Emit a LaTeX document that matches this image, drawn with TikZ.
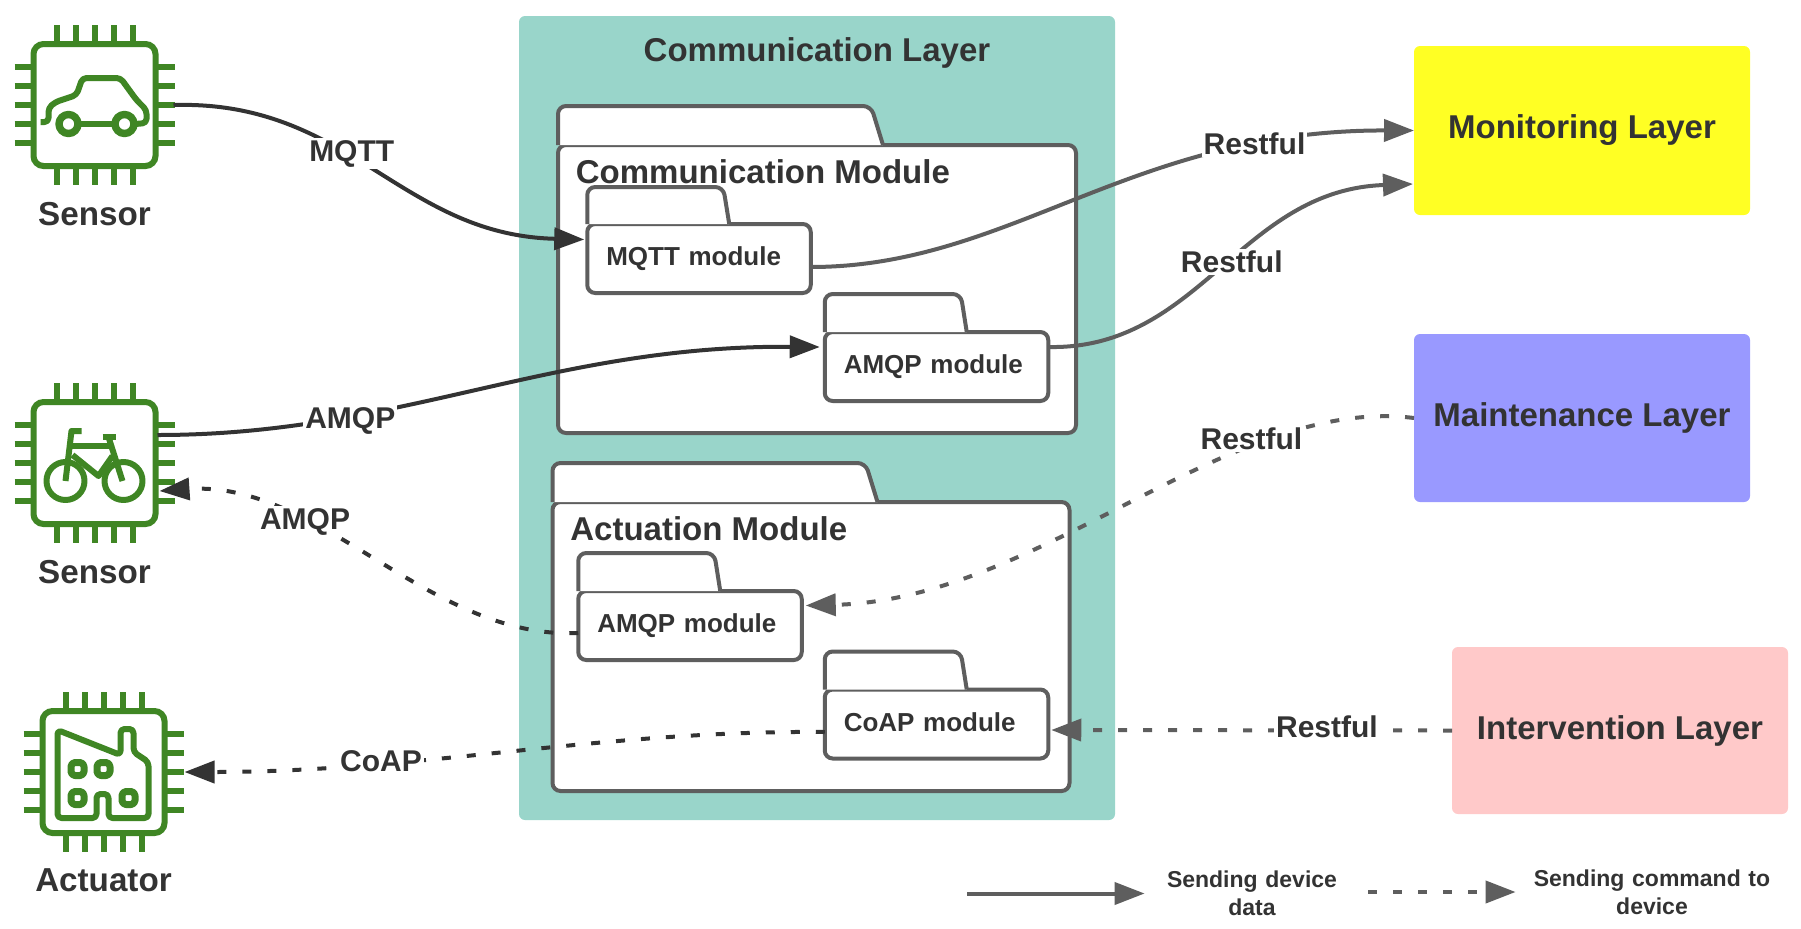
\documentclass[tikz,border=0pt]{standalone}
\usepackage{fontspec}
\setmainfont{Liberation Sans}
\usetikzlibrary{arrows.meta, positioning}
\definecolor{chipgreen}{RGB}{63, 134, 36}
\definecolor{layerteal}{RGB}{153, 213, 202}
\definecolor{layeryellow}{RGB}{255, 255, 36}
\definecolor{layerpurple}{RGB}{153, 153, 255}
\definecolor{layerpink}{RGB}{255, 201, 201}
\definecolor{inkdark}{RGB}{51, 51, 51}
\definecolor{inkgray}{RGB}{94, 94, 94}
\tikzset{
  boldtext/.style={font=\fontsize{#1}{#1}\selectfont\bfseries, text=inkdark},
  layerbox/.style={rounded corners=3pt, inner sep=0pt, outer sep=0pt, boldtext=16.5},
  modulebox/.style={draw=inkgray, fill=white, line width=2pt, rounded corners=4pt, inner sep=0pt, outer sep=0pt},
  subbox/.style={modulebox, boldtext=13, minimum height=34.5pt, text width=92.75pt, inner xsep=9.5pt, align=left},
  tabline/.style={draw=inkgray, fill=white, line width=2pt, rounded corners=4pt},
  chipbox/.style={draw=chipgreen, fill=white, line width=3pt, rounded corners=5pt, minimum size=61pt, inner sep=0pt, outer sep=0pt},
  chipcaption/.style={boldtext=16.6, inner sep=0pt},
  glyphline/.style={draw=chipgreen, line width=3pt, rounded corners=2pt, line join=round},
  edgelabel/.style={fill=white, inner sep=1pt, boldtext=15},
  dataline/.style={draw=#1, line width=2pt, -{Triangle[length=15pt, width=11pt]}},
  commandline/.style={dataline=#1, dash pattern=on 4.5pt off 8pt},
  pinsaround/.pic={
    \foreach \p in {-38,-19,0,19,38} {
      \draw[chipgreen, line width=3pt] (\p,-80) -- (\p,-63);
      \draw[chipgreen, line width=3pt] (\p,63) -- (\p,80);
      \draw[chipgreen, line width=3pt] (-80,\p) -- (-63,\p);
      \draw[chipgreen, line width=3pt] (63,\p) -- (80,\p);
    }
  },
  carglyph/.pic={
    \draw[glyphline] (-54,17) -- (-46,17) -- (-46,3) -- (-39,-3) -- (-18,-10) -- (-12,-27) -- (26,-27) -- (42,-5) -- (52,5) -- (52,18) -- (41,19);
    \draw[glyphline] (-14,19) -- (18,19);
    \draw[glyphline, line width=3.7pt] (-26,19) circle (9.5);
    \draw[glyphline, line width=3.7pt] (30,19) circle (9.5);
  },
  bikeglyph/.pic={
    \draw[glyphline] (-29,18) circle (19);
    \draw[glyphline] (29,18) circle (19);
    \draw[glyphline, rounded corners=0pt] (-13,-32) -- (-23,-32) -- (-29,18);
    \draw[glyphline, rounded corners=0pt] (8,-26) -- (21,-26);
    \draw[glyphline, rounded corners=0pt] (14,-26) -- (28,18);
    \draw[glyphline, rounded corners=0pt] (-25,-17) -- (16,-17);
    \draw[glyphline, rounded corners=0pt] (-22,-8) -- (4,13) -- (18,-7);
  },
  factoryglyph/.pic={
    \draw[glyphline] (-46,-42) -- (17,-17) -- (17,-43) -- (30,-43) -- (30,-20) -- (45,-10) -- (45,46) -- (5,46) -- (5,22) -- (-7,22) -- (-7,46) -- (-46,46) -- cycle;
    \foreach \wx/\wy in {-26/-3, 0/-3, -26/26, 25/26} {
      \draw[glyphline, line width=3.5pt] (\wx-6.5,\wy-6.5) rectangle (\wx+6.5,\wy+6.5);
    }
  }
}
\newcommand{\foldertab}[4]{
  \draw[tabline] (#1.north west) -- ++(0,-#2) -- ++(#3,0) -- ++(#4,#2);
}

\begin{document}
\begin{tikzpicture}[x=0.5pt, y=-0.5pt]
  \useasboundingbox (0,0) rectangle (1801,928);

  \node[layerbox, fill=layerteal, minimum width=298pt, minimum height=402pt] (commLayer) at (817,418) {};
  \node[boldtext=16.5, inner sep=0pt] (commTitle) at (817,52.5) {Communication Layer};

  \node[modulebox, minimum width=259pt, minimum height=144pt] (commModule) at (817,289) {};
  \foldertab{commModule}{39}{313}{12}
  \node[modulebox, minimum width=258.5pt, minimum height=144.5pt] (actModule) at (811,646.5) {};
  \foldertab{actModule}{39}{313}{12}

  \node[boldtext=16.5, inner sep=0pt, anchor=west] (commModuleTitle) at (575.5,172) {Communication Module};
  \node[boldtext=16.5, inner sep=0pt, anchor=west] (actModuleTitle) at (570,529) {Actuation Module};

  \node[subbox] (mqttModule) at (699,258.5) {MQTT module};
  \foldertab{mqttModule}{37}{136}{6}
  \node[subbox] (amqpModule) at (936.5,366.5) {AMQP module};
  \foldertab{amqpModule}{38}{136}{6}
  \node[subbox] (amqpCmdModule) at (690,625.5) {AMQP module};
  \foldertab{amqpCmdModule}{38}{136}{6}
  \node[subbox] (coapModule) at (936.5,724) {\raisebox{2pt}{CoAP module}};
  \foldertab{coapModule}{38}{136}{6}

  \node[layerbox, fill=layeryellow, minimum width=168pt, minimum height=84.5pt] (monitoring) at (1582,130.5) {\raisebox{1.4pt}{Monitoring Layer}};
  \node[layerbox, fill=layerpurple, minimum width=168pt, minimum height=84pt] (maintenance) at (1582,418) {\raisebox{1.4pt}{Maintenance Layer}};
  \node[layerbox, fill=layerpink, minimum width=168pt, minimum height=83.5pt] (intervention) at (1620,730.5) {\raisebox{2.4pt}{Intervention Layer}};

  \node[chipbox] (sensorCar) at (94.5,105) {};
  \pic at (sensorCar) {pinsaround};
  \pic at (sensorCar) {carglyph};
  \node[chipcaption, below=17.75pt of sensorCar] (sensorCarCaption) {Sensor};

  \node[chipbox] (sensorBike) at (94.5,463) {};
  \pic at (sensorBike) {pinsaround};
  \pic at (sensorBike) {bikeglyph};
  \node[chipcaption, below=17.75pt of sensorBike] (sensorBikeCaption) {Sensor};

  \node[chipbox] (actuator) at (103.5,772) {};
  \pic at (actuator) {pinsaround};
  \pic at (actuator) {factoryglyph};
  \node[chipcaption, below=17.75pt of actuator] (actuatorCaption) {Actuator};

  \draw[dataline=inkdark] ([shift={(18,0)}]sensorCar.east) .. controls (350,100) and (400,235) .. ([shift={(-3,-19)}]mqttModule.west) node[edgelabel, pos=.43, yshift=.5pt] (mqttLabel) {MQTT};
  \draw[dataline=inkdark] ([shift={(2,-28)}]sensorBike.east) .. controls (400,435) and (550,345) .. ([shift={(-5,-19.5)}]amqpModule.west) node[edgelabel, pos=.29, yshift=-2pt] (amqpLabel) {AMQP};
  \draw[dataline=inkgray] ([shift={(0,8.5)}]mqttModule.east) .. controls (1010,267) and (1130,130) .. (monitoring.west) node[edgelabel, pos=.79, yshift=1pt] (restMqttLabel) {Restful};
  \draw[dataline=inkgray] ([shift={(0,-19.5)}]amqpModule.east) .. controls (1200,350) and (1240,190) .. ([shift={(-1,53.5)}]monitoring.west) node[edgelabel, pos=.53] (restAmqpLabel) {Restful};

  \draw[commandline=inkgray] (maintenance.west) .. controls (1230,395) and (1040,600) .. ([shift={(4,-20)}]amqpCmdModule.east) node[edgelabel, pos=.29, yshift=3pt] (restCmdLabel) {Restful};
  \draw[commandline=inkgray] (intervention.west) -- ([shift={(3,6)}]coapModule.east) node[edgelabel, pos=.312, yshift=2pt] (restCoapLabel) {Restful};
  \draw[commandline=inkdark] ([shift={(0,7.5)}]amqpCmdModule.west) .. controls (430,640) and (320,480) .. ([shift={(4,28)}]sensorBike.east) node[edgelabel, pos=.67, yshift=1pt] (amqpCmdLabel) {AMQP};
  \draw[commandline=inkdark] ([shift={(0,8)}]coapModule.west) .. controls (600,730) and (420,772) .. ([shift={(20,0)}]actuator.east) node[edgelabel, pos=.705, yshift=1pt] (coapLabel) {CoAP};

  \coordinate (solidStart) at (967,893.5);
  \coordinate (dashedStart) at (1368,892);
  \node[boldtext=11.5, inner sep=0pt, text width=107pt, align=center] (sendData) at (1252,893) {Sending device\\[2.3pt]data};
  \node[boldtext=11.5, inner sep=0pt, text width=136pt, align=center] (sendCommand) at (1652,892.5) {Sending command to\\[2.3pt]device};
  \draw[dataline=inkgray] (solidStart) -- (sendData.west |- solidStart);
  \draw[commandline=inkgray] (dashedStart) -- (sendCommand.west |- dashedStart);
\end{tikzpicture}
\end{document}
